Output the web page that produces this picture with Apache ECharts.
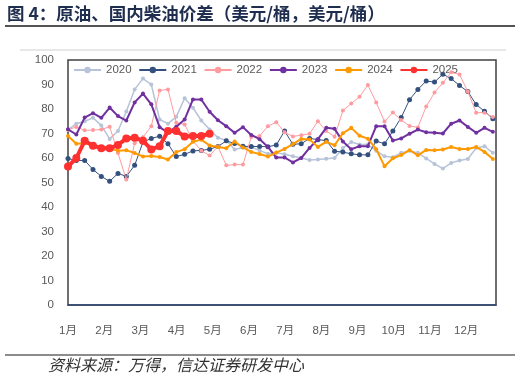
<!DOCTYPE html>
<html><head><meta charset="utf-8">
<script src="https://cdn.jsdelivr.net/npm/echarts@6/dist/echarts.min.js"></script>
<style>html,body{margin:0;padding:0;background:#fff}#c{width:520px;height:379px}</style>
</head><body><div id="c"></div>
<script>
const months = ['1月','2月','3月','4月','5月','6月','7月','8月','9月','10月','11月','12月'];
const years = ['2020','2021','2022','2023','2024','2025'];
const y2020 = [71.5,74,75,76.4,73.3,67.8,71,79,88,92.4,90,75.7,74,76.8,84.4,80.5,75.3,71.6,68.3,67.2,63.5,64.3,64.5,63.1,61.7,62.1,61.5,60.7,60,59.2,59.4,59.7,60,64.1,66.5,65.5,65.5,63,60.7,60.3,62.1,63,62.1,59.8,57.6,55.7,58,59,59.6,64.1,64.8,62.1];
const y2021 = [59.8,59,59,55.3,52.5,50.5,53.7,52.5,57,66.5,68,68.9,65.8,60.6,61.5,62.9,63.1,63.6,64.7,67,65.9,64.8,64.7,64.7,64.6,65.3,71,65.6,65.8,68,67.5,67.1,62.8,62.4,61.7,61.3,61.3,66.9,65.8,71,76.5,83.8,88,91.4,91,94.2,92.4,89.6,87.1,81.8,79.1,76];
const y2022 = [71.5,72.7,71.3,71.4,71.6,72.8,62,51.2,66,68.5,73,87.6,88,74.4,73.7,67,63,61,64.7,57,57.3,57.3,68.6,69,73,74.6,70.5,68.8,69.3,69.9,75,71,68.7,79.4,82.2,85,89.8,82.7,74.9,78.6,75.5,73.1,72.5,81,86.7,90.7,95,94.1,87.1,78.5,78.5,76.7];
const y2023 = [71.7,69.6,76.5,78.3,76.4,80.6,77.1,75.3,82.7,86.3,81.9,72.6,70.3,72.8,75.7,83.9,83.9,78.9,75.4,73,70.3,72.6,69.4,67.7,64.5,60.2,60.2,58.2,60,64.1,67.7,72.3,71.9,66.7,63.6,64.8,64.8,73,73,67.1,68,69.9,71.6,70.5,70.3,70,74,75.3,72.7,70.3,72.3,70.7];
const y2024 = [69,65.8,66,65.3,64.3,63.9,63,63.2,62,60.6,60.8,60.4,59.4,62.4,63.6,66.6,67.5,65.1,64.5,64,66.7,64.3,62.5,61.6,60.6,62.2,63.7,65.7,67.8,67.6,64.5,66.6,65.2,70.1,72.3,69.1,67.9,63.6,56.6,59.9,61.2,63.2,61.1,63.3,63.2,63.5,64.5,63.7,63.7,64.5,62.5,59.6];
const y2025 = [56.5,60,67,65,64,64,65.3,68,68.3,67,63.5,64.8,71,71,68.8,69,69,69.9];
const yTicks = {min:0, max:100, interval:10};

const weeksPerMonth = 365/12/7;
const toPts = arr => arr.map((v,i)=>[i,v]);
const styles = [
  {color:'#B7C3D8', width:1.5, size:4},
  {color:'#34507F', width:1, size:5},
  {color:'#FF9A9E', width:1, size:4},
  {color:'#7030A0', width:2, size:4},
  {color:'#FF9900', width:2, size:4},
  {color:'#FF3030', width:4, size:8}
];
const data = [y2020,y2021,y2022,y2023,y2024,y2025];
const series = years.map((name,k)=>({
  name, type:'line', data: toPts(data[k]),
  symbol:'circle', symbolSize: styles[k].size,
  lineStyle:{color:styles[k].color, width:styles[k].width},
  itemStyle:{color:styles[k].color},
  animation:false, z: 2+k
}));

const chart = echarts.init(document.getElementById('c'), null, {renderer:'canvas'});
chart.setOption({
  animation:false,
  textStyle:{fontFamily:'Liberation Sans, Noto Sans CJK SC'},
  grid:{left:68, right:24, top:60, bottom:74, show:true, borderColor:'#404040', borderWidth:1.5, backgroundColor:'transparent'},
  legend:{
    data: years, left:73, top:64, padding:0, itemWidth:27, itemHeight:8, itemGap:6.7,
    textStyle:{color:'#595959', fontSize:11.5, fontFamily:'Liberation Sans'}
  },
  xAxis:{
    type:'value', min:0, max:51.38, interval:weeksPerMonth,
    axisLine:{show:true, lineStyle:{color:'#2F4A78', width:1.5}},
    axisTick:{show:false}, splitLine:{show:false},
    axisLabel:{color:'#595959', fontSize:11.5, margin:20, showMaxLabel:false,
      formatter: v => months[Math.round(v/weeksPerMonth)] || ''}
  },
  yAxis:{
    type:'value', min:yTicks.min, max:yTicks.max, interval:yTicks.interval,
    axisLine:{show:false}, axisTick:{show:false}, splitLine:{show:false},
    axisLabel:{color:'#595959', fontSize:11.5, margin:14}
  },
  graphic:[
    {type:'text', left:7, top:5, style:{text:'图 4：原油、国内柴油价差（美元/桶，美元/桶）', fill:'#1F2D4F', font:'bold 17.5px "Noto Sans CJK SC"'}},
    {type:'line', shape:{x1:5, y1:26, x2:515, y2:26}, style:{stroke:'#1a1a1a', lineWidth:1.5}},
    {type:'line', shape:{x1:20, y1:50, x2:506, y2:50}, style:{stroke:'#D0D0D0', lineWidth:1}},
    {type:'line', shape:{x1:5, y1:355, x2:515, y2:355}, style:{stroke:'#1a1a1a', lineWidth:1.2}},
    {type:'text', left:48, top:357, style:{text:'资料来源：万得，信达证券研发中心', fill:'#333333', font:'italic 16px "Noto Sans CJK SC"'}}
  ],
  series
});
</script></body></html>
